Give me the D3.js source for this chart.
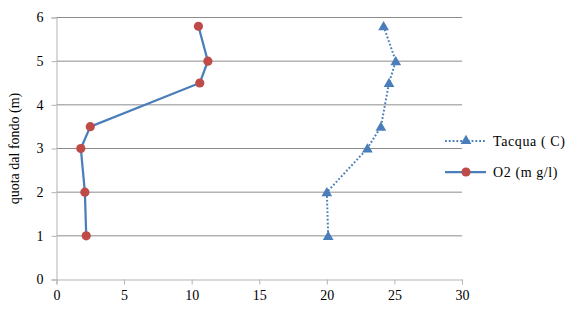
<!DOCTYPE html>
<html>
<head>
<meta charset="utf-8">
<script src="https://cdn.jsdelivr.net/npm/d3@7"></script>
<style>
  body { margin: 0; background: #fff; }
  svg text { font-family: "Liberation Serif", "Times New Roman", serif; font-size: 14px; fill: #000; }
</style>
</head>
<body>
<div id="chart"></div>
<script>
// quota dal fondo (m)
var quota = [1, 2, 3, 3.5, 4.5, 5, 5.8];
var tacqua = [20.1, 20, 23, 24, 24.6, 25.1, 24.2];
var quotaO2 = [1, 2, 3, 3.5, 4.5, 5, 5.8];
var o2 = [2.2, 2.1, 1.8, 2.5, 10.6, 11.2, 10.5];
var xTicks = [0, 5, 10, 15, 20, 25, 30];
var yTicks = [0, 1, 2, 3, 4, 5, 6];
var seriesNames = ["Tacqua ( C)", "O2 (m g/l)"];

var width = 576, height = 318;
var mLeft = 56.5, mRight = 462, mTop = 17.5, mBottom = 279.5;
var blue = "#4a7ebb", red = "#be4b48";

var svg = d3.select("#chart").append("svg")
    .attr("width", width)
    .attr("height", height);

var x = d3.scaleLinear().domain([0, 30]).range([mLeft, mRight]);
var y = d3.scaleLinear().domain([0, 6]).range([mBottom, mTop]);

// gridlines
svg.append("g").selectAll("line")
    .data(yTicks.slice(1))
    .join("line")
    .attr("x1", mLeft).attr("x2", mRight)
    .attr("y1", function (d) { return y(d); })
    .attr("y2", function (d) { return y(d); })
    .style("stroke", "#8c8c8c").style("stroke-width", 1);

// y axis
var yAxis = svg.append("g")
    .attr("transform", "translate(" + mLeft + ",0)")
    .call(d3.axisLeft(y).tickValues(yTicks).tickSize(5).tickPadding(8).tickFormat(d3.format("d")));
yAxis.select(".domain").style("stroke", "#b3b3b3");
yAxis.selectAll(".tick line").style("stroke", "#b3b3b3");
yAxis.selectAll("text").style("font-size", "14px").attr("font-family", null);

// x axis
var xAxis = svg.append("g")
    .attr("transform", "translate(0," + mBottom + ")")
    .call(d3.axisBottom(x).tickValues(xTicks).tickSize(5).tickPadding(6).tickFormat(d3.format("d")));
xAxis.select(".domain").style("stroke", "#b3b3b3");
xAxis.selectAll(".tick line").style("stroke", "#b3b3b3");
xAxis.selectAll("text").style("font-size", "14px").attr("font-family", null);

// y label
svg.append("text")
    .attr("transform", "translate(19," + ((mTop + mBottom) / 2) + ") rotate(-90)")
    .attr("text-anchor", "middle")
    .text("quota dal fondo (m)");

var line = d3.line()
    .x(function (d) { return x(d[0]); })
    .y(function (d) { return y(d[1]); });

var tData = tacqua.map(function (v, i) { return [v, quota[i]]; });
var oData = o2.map(function (v, i) { return [v, quotaO2[i]]; });

// Tacqua dotted
svg.append("path")
    .datum(tData)
    .attr("d", line)
    .style("fill", "none")
    .style("stroke", blue)
    .style("stroke-width", 2)
    .style("stroke-dasharray", "1.8,2");

var tri = d3.symbol().type(d3.symbolTriangle).size(50);
svg.append("g").selectAll("path")
    .data(tData)
    .join("path")
    .attr("d", tri)
    .attr("transform", function (d) { return "translate(" + x(d[0]) + "," + (y(d[1]) + 1) + ")"; })
    .style("fill", blue);

// O2 solid
svg.append("path")
    .datum(oData)
    .attr("d", line)
    .style("fill", "none")
    .style("stroke", blue)
    .style("stroke-width", 2.25);

svg.append("g").selectAll("circle")
    .data(oData)
    .join("circle")
    .attr("cx", function (d) { return x(d[0]); })
    .attr("cy", function (d) { return y(d[1]); })
    .attr("r", 4.6)
    .style("fill", red);

// legend
var legend = svg.append("g");
var ly = [141, 172];
legend.append("line")
    .attr("x1", 445).attr("x2", 486).attr("y1", ly[0]).attr("y2", ly[0])
    .style("stroke", blue).style("stroke-width", 2).style("stroke-dasharray", "1.8,2");
legend.append("path")
    .attr("d", tri)
    .attr("transform", "translate(466," + ly[0] + ")")
    .style("fill", blue);
legend.append("line")
    .attr("x1", 445).attr("x2", 486).attr("y1", ly[1]).attr("y2", ly[1])
    .style("stroke", blue).style("stroke-width", 2.25);
legend.append("circle")
    .attr("cx", 466).attr("cy", ly[1]).attr("r", 4.6)
    .style("fill", red);
legend.selectAll("text")
    .data(seriesNames)
    .join("text")
    .attr("x", 493)
    .attr("y", function (d, i) { return ly[i] + 5; })
    .style("letter-spacing", "0.6px")
    .text(function (d) { return d; });
</script>
</body>
</html>
